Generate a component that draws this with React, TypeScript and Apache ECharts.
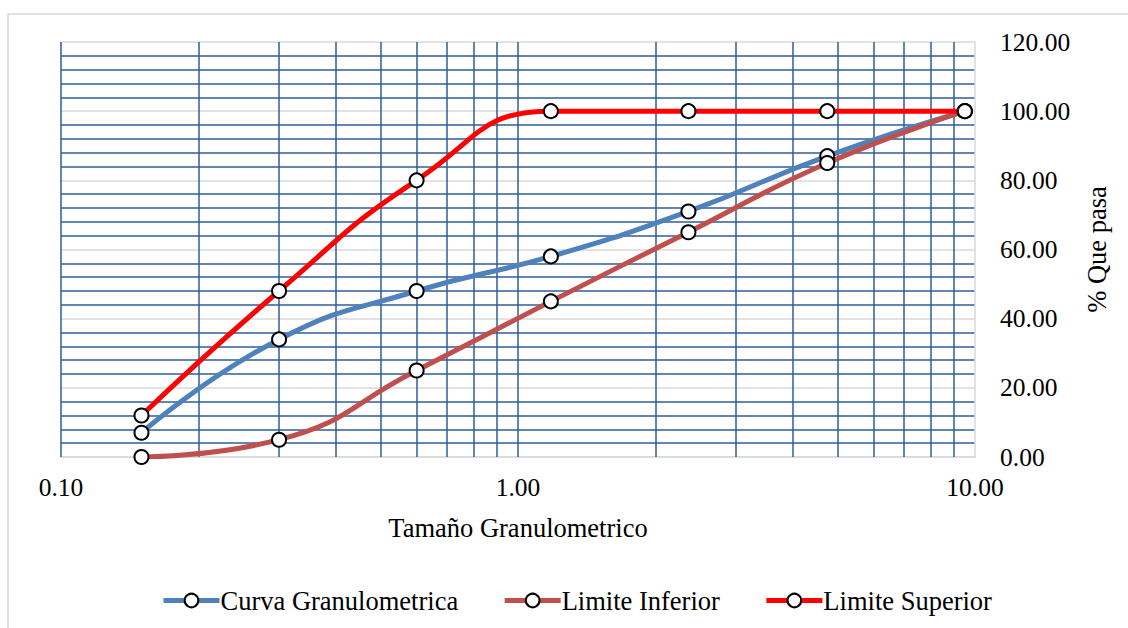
import React, { useEffect, useRef } from "react";
import * as echarts from "echarts";

const sieveSizes = [0.15, 0.3, 0.6, 1.18, 2.36, 4.75, 9.5];
const curvaGranulometrica = [7, 34, 48, 58, 71, 87, 100];
const limiteInferior = [0, 5, 25, 45, 65, 85, 100];
const limiteSuperior = [12, 48, 80, 100, 100, 100, 100];
const verticalGridValues = [0.1, 0.2, 0.3, 0.4, 0.5, 0.6, 0.7, 0.8, 0.9, 1, 2, 3, 4, 5, 6, 7, 8, 9];
const seriesNames = ["Curva Granulometrica", "Limite Inferior", "Limite Superior"];

const FONT = "'Liberation Serif', 'Times New Roman', serif";
const BLUE_GRID = "#2f5d99";

export default function App() {
  const ref = useRef<HTMLDivElement>(null);
  useEffect(() => {
    if (!ref.current) return;
    const chart = echarts.init(ref.current, undefined, { renderer: "svg" });
    const pairs = (ys: number[]) => sieveSizes.map((x, i) => [x, ys[i]]);
    const symbolStyle = { color: "#ffffff", borderColor: "#000000", borderWidth: 2 };
    const mk = (name: string, ys: number[], color: string) => ({
      name,
      type: "line",
      data: pairs(ys),
      smooth: 0.5,
      symbol: "circle",
      symbolSize: 14,
      showSymbol: true,
      z: 5,
      lineStyle: { color, width: 5 },
      itemStyle: { ...symbolStyle },
      emphasis: { disabled: true },
    });
    chart.setOption({
      animation: false,
      textStyle: { fontFamily: FONT },
      graphic: [
        {
          type: "rect",
          shape: { x: 8, y: 14, width: 1140, height: 640 },
          style: { fill: "none", stroke: "#d9d9d9", lineWidth: 1.5 },
          silent: true,
          z: -10,
        },
      ],
      grid: { left: 61, right: 153, top: 42, height: 415, containLabel: false },
      legend: {
        data: seriesNames,
        left: 156,
        top: 582,
        itemWidth: 56,
        itemHeight: 17,
        itemGap: 44,
        lineStyle: { width: 5 },
        itemStyle: { borderWidth: 2 },
        textStyle: { fontFamily: FONT, fontSize: 26.5, color: "#000", padding: [0, 0, 0, -4] },
      },
      xAxis: {
        type: "log",
        logBase: 10,
        min: 0.1,
        max: 10,
        name: "Tamaño Granulometrico",
        nameLocation: "middle",
        nameGap: 57,
        nameTextStyle: { fontFamily: FONT, fontSize: 26.5, color: "#000", verticalAlign: "top" },
        axisLine: { show: true, lineStyle: { color: "#d9d9d9", width: 1.5 } },
        axisTick: { show: false },
        splitLine: { show: false },
        minorSplitLine: { show: false },
        axisLabel: {
          fontFamily: FONT,
          fontSize: 25.5,
          color: "#000",
          margin: 17,
          formatter: (v: number) => v.toFixed(2),
        },
      },
      yAxis: {
        type: "value",
        position: "right",
        min: 0,
        max: 120,
        interval: 20,
        name: "% Que pasa",
        nameLocation: "middle",
        nameRotate: 90,
        nameGap: 108,
        nameTextStyle: { fontFamily: FONT, fontSize: 26.5, color: "#000" },
        axisLine: { show: true, lineStyle: { color: "#d9d9d9", width: 1.5 } },
        axisTick: { show: false },
        axisLabel: {
          fontFamily: FONT,
          fontSize: 25.5,
          color: "#000",
          margin: 25,
          formatter: (v: number) => v.toFixed(2),
        },
        splitLine: { show: true, lineStyle: { color: "#d9d9d9", width: 1.5 } },
        minorTick: { show: false, splitNumber: 5 },
        minorSplitLine: { show: true, lineStyle: { color: BLUE_GRID, width: 1.5 } },
      },
      series: [
        {
          name: "grid",
          type: "line",
          data: [],
          z: 1,
          silent: true,
          markLine: {
            silent: true,
            symbol: "none",
            label: { show: false },
            lineStyle: { color: BLUE_GRID, width: 1.5, type: "solid" },
            emphasis: { disabled: true },
            data: verticalGridValues.map((v) => ({ xAxis: v })),
          },
        },
        mk(seriesNames[0], curvaGranulometrica, "#4f81bd"),
        mk(seriesNames[1], limiteInferior, "#c0504d"),
        mk(seriesNames[2], limiteSuperior, "#ff0000"),
      ],
    });
    return () => chart.dispose();
  }, []);
  return (
    <div
      ref={ref}
      style={{ position: "fixed", left: 0, top: 0, width: 1128, height: 628, background: "#fff" }}
    />
  );
}
